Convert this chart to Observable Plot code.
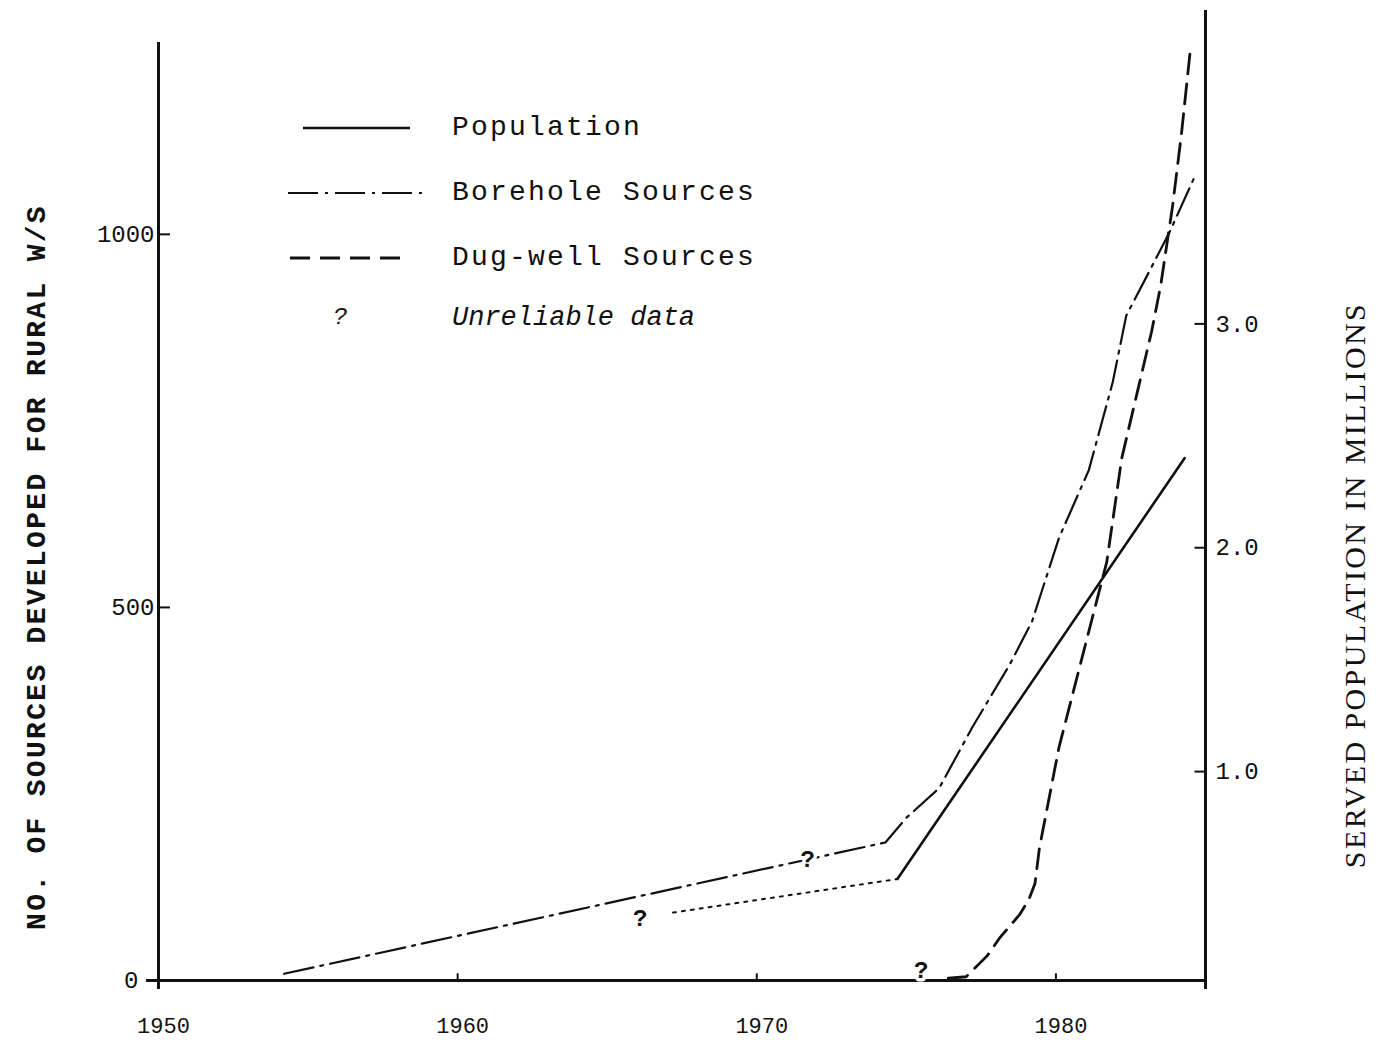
<!DOCTYPE html>
<html><head><meta charset="utf-8">
<script src="https://cdn.jsdelivr.net/npm/d3@7"></script>
<script src="https://cdn.jsdelivr.net/npm/@observablehq/plot@0.6"></script>
<style>
body{margin:0;background:#fff;}
#wrap{position:relative;width:1380px;height:1042px;font-family:"Liberation Mono",monospace;color:#111;overflow:hidden;}
#legend{position:absolute;left:0;top:0;width:1380px;height:1042px;pointer-events:none;}
.lbl{position:absolute;white-space:nowrap;font-size:28px;letter-spacing:2.2px;line-height:40px;}
.title{position:absolute;white-space:nowrap;transform:translate(-50%,-50%) rotate(-90deg);line-height:1;}
</style></head><body>
<div id="wrap"><div id="chart"></div><div id="legend"></div></div>
<script>
// ---- data ----
const popYears = [1967.2, 1974.7, 1984.3];
const popMillions = [0.37, 0.52, 2.40];
const popReliableFrom = 1974.7;

const boreYears = [1954.2, 1974.3, 1975.0, 1976.1, 1977.2, 1978.45, 1979.2, 1980.1, 1981.1, 1981.9, 1982.35, 1983.0, 1983.8, 1984.6];
const boreValues = [9, 185, 218, 258, 339, 423, 481, 593, 684, 802, 891, 941, 1003, 1074];

const dugYears = [1976.4, 1977.0, 1977.7, 1978.1, 1978.8, 1979.1, 1979.3, 1979.45, 1980.1, 1981.1, 1981.7, 1982.2, 1982.8, 1983.2, 1983.5, 1983.9, 1984.2, 1984.5];
const dugValues = [3, 5, 33, 56, 89, 109, 130, 178, 312, 468, 561, 700, 802, 870, 931, 1038, 1136, 1250];

const unreliableYears = [1966.1, 1971.7, 1975.5];
const unreliableValues = [83, 163, 13];

const xTicks = [1950, 1960, 1970, 1980];
const leftTicks = [0, 500, 1000];
const rightTicks = [1.0, 2.0, 3.0];

const leftTitle = "NO. OF SOURCES DEVELOPED FOR RURAL W/S";
const rightTitle = "SERVED POPULATION IN MILLIONS";
const legendLabels = ["Population", "Borehole Sources", "Dug-well Sources", "Unreliable data"];

// right axis (millions) expressed on the left scale (number of sources)
const toLeft = m => 300 * m - 20;

const pop = popYears.map((y, i) => ({year: y, value: toLeft(popMillions[i])}));
const popDotted = pop.filter(d => d.year <= popReliableFrom);
const popSolid = pop.filter(d => d.year >= popReliableFrom);
const bore = boreYears.map((y, i) => ({year: y, value: boreValues[i]}));
const dug = dugYears.map((y, i) => ({year: y, value: dugValues[i]}));
const unrel = unreliableYears.map((y, i) => ({year: y, value: unreliableValues[i]}));

const ink = "#111";
const chart = Plot.plot({
  width: 1380, height: 1042,
  marginLeft: 158, marginRight: 175, marginTop: 10, marginBottom: 62,
  x: {domain: [1950, 1985], axis: null},
  y: {domain: [0, 1300], axis: null},
  style: {fontFamily: "Liberation Mono", background: "white", color: ink},
  marks: [
    // axis lines
    Plot.ruleY([0], {x1: 1949.6, x2: 1985, stroke: ink, strokeWidth: 3}),
    Plot.ruleX([1950], {y1: -12, y2: 1257, stroke: ink, strokeWidth: 3}),
    Plot.ruleX([1985], {y1: -12, y2: 1300, stroke: ink, strokeWidth: 3}),
    // left ticks
    Plot.ruleY(leftTicks.filter(d => d > 0), {y: d => d, x1: 1950, x2: 1950.4, stroke: ink, strokeWidth: 2}),
    Plot.text(leftTicks.filter(d => d > 0), {x: 1950, y: d => d, text: d => String(d), textAnchor: "end", dx: -4, fontSize: 24, letterSpacing: 2.5}),
    Plot.text(leftTicks.filter(d => d === 0), {x: 1950, y: d => d, text: d => String(d), textAnchor: "end", dx: -20, fontSize: 24}),
    // right ticks
    Plot.ruleY(rightTicks, {y: d => toLeft(d), x1: 1984.65, x2: 1985, stroke: ink, strokeWidth: 2}),
    Plot.text(rightTicks, {x: 1985, y: d => toLeft(d), text: d => d.toFixed(1), textAnchor: "start", dx: 10, fontSize: 24, letterSpacing: 4}),
    // x ticks
    Plot.ruleX(xTicks.slice(1), {x: d => d, y1: 0, y2: 9, stroke: ink, strokeWidth: 2}),
    Plot.text(xTicks, {x: d => d, y: 0, text: d => String(d), dy: 45, dx: 5, fontSize: 22, letterSpacing: 1}),
    // series
    Plot.line(popDotted, {x: "year", y: "value", stroke: ink, strokeWidth: 2, strokeDasharray: "3,6"}),
    Plot.line(popSolid, {x: "year", y: "value", stroke: ink, strokeWidth: 2.6}),
    Plot.line(bore, {x: "year", y: "value", stroke: ink, strokeWidth: 2.2, strokeDasharray: "30,7,3,7"}),
    Plot.line(dug, {x: "year", y: "value", stroke: ink, strokeWidth: 2.8, strokeDasharray: "20,10"}),
    // unreliable markers
    Plot.text(unrel, {x: "year", y: "value", text: () => "?", fontSize: 24, fontWeight: "bold", stroke: "white", strokeWidth: 7, fill: ink, paintOrder: "stroke"})
  ]
});
document.getElementById("chart").appendChild(chart);

const wrap = document.getElementById("wrap");
// axis titles (rotated, reading bottom to top)
function addTitle(text, cx, cy, css) {
  const d = document.createElement("div");
  d.className = "title";
  d.textContent = text;
  d.style.left = cx + "px";
  d.style.top = cy + "px";
  Object.assign(d.style, css);
  wrap.appendChild(d);
}
addTitle(leftTitle, 38, 567, {fontFamily: "'Liberation Mono', monospace", fontWeight: "bold", fontSize: "28px", letterSpacing: "2.3px"});
addTitle(rightTitle, 1355, 585, {fontFamily: "'Liberation Serif', serif", fontSize: "30px", letterSpacing: "2.4px"});

// legend overlay inside the plot area
const legend = document.getElementById("legend");
const rowsY = [128, 193, 258, 318];
const samples = [
  {x1: 303, x2: 410, dash: null, w: 2.6},
  {x1: 288, x2: 425, dash: "30,7,3,7", w: 2.2},
  {x1: 290, x2: 405, dash: "20,10", w: 2.8}
];
legendLabels.forEach((lab, i) => {
  const cy = rowsY[i];
  if (i < 3) {
    const s = samples[i];
    const svg = document.createElementNS("http://www.w3.org/2000/svg", "svg");
    svg.setAttribute("width", s.x2 - s.x1);
    svg.setAttribute("height", 10);
    svg.style.position = "absolute";
    svg.style.left = s.x1 + "px";
    svg.style.top = (cy - 5) + "px";
    const ln = document.createElementNS("http://www.w3.org/2000/svg", "line");
    ln.setAttribute("x1", 0); ln.setAttribute("x2", s.x2 - s.x1);
    ln.setAttribute("y1", 5); ln.setAttribute("y2", 5);
    ln.setAttribute("stroke", ink); ln.setAttribute("stroke-width", s.w);
    if (s.dash) ln.setAttribute("stroke-dasharray", s.dash);
    svg.appendChild(ln);
    legend.appendChild(svg);
  } else {
    const q = document.createElement("div");
    q.className = "lbl";
    q.textContent = "?";
    q.style.left = "333px"; q.style.top = (cy - 20) + "px";
    q.style.fontStyle = "italic"; q.style.fontSize = "24px";
    legend.appendChild(q);
  }
  const t = document.createElement("div");
  t.className = "lbl";
  t.textContent = lab;
  t.style.left = "452px";
  t.style.top = (cy - 20) + "px";
  if (i === 3) { t.style.fontStyle = "italic"; t.style.fontSize = "27px"; t.style.letterSpacing = "0px"; }
  legend.appendChild(t);
});
</script>
</body></html>
